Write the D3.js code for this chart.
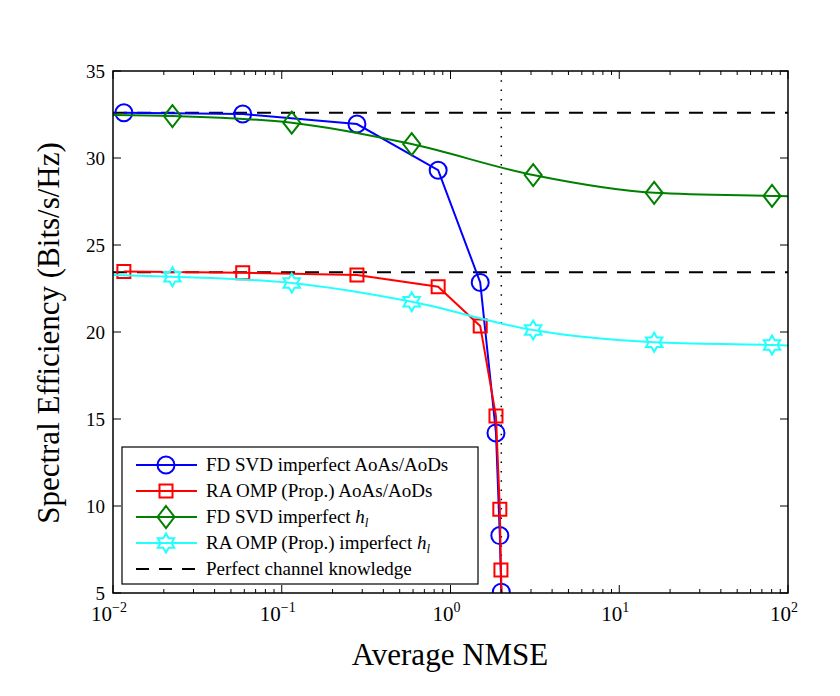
<!DOCTYPE html>
<head>
  <meta charset="utf-8">
  <script src="https://d3js.org/d3.v7.min.js"></script>
  <style>
    body { margin: 0; background: #fff; }
    svg { width: 840px; height: 696px; display: block; }
    text { font-family: "Liberation Serif", "DejaVu Serif", serif; fill: #000; }
  </style>
</head>
<body>
  <svg></svg>
  <script>
    // NMSE values (x) and spectral efficiency (y)
    var aoX = [0.0116, 0.0587, 0.279, 0.845, 1.50, 1.86, 1.96, 2.0];
    var fdSvdAoY = [32.6, 32.53, 31.95, 29.3, 22.85, 14.2, 8.3, 5.05];
    var raOmpAoX = [0.0116, 0.0587, 0.279, 0.845, 1.50, 1.86, 1.96, 1.99, 2.02];
    var raOmpAoY = [23.47, 23.41, 23.28, 22.6, 20.35, 15.17, 9.81, 6.32, 4.0];
    var hX = [0.01, 0.0225, 0.1146, 0.589, 3.09, 16.1, 80.4, 100];
    var fdSvdHY = [32.47, 32.41, 32.03, 30.8, 29.02, 28.0, 27.82, 27.8];
    var raOmpHY = [23.28, 23.18, 22.82, 21.74, 20.11, 19.41, 19.25, 19.22];
    var hMarked = [false, true, true, true, true, true, true, false];
    var perfectY = [32.6, 23.43];
    var thresholdX = 2;
    var yTicks = [5, 10, 15, 20, 25, 30, 35];
    var xTicks = [-2, -1, 0, 1, 2];
    var legendLabels = [
      ['FD SVD imperfect AoAs/AoDs'],
      ['RA OMP (Prop.) AoAs/AoDs'],
      ['FD SVD imperfect ', 'h'],
      ['RA OMP (Prop.) imperfect ', 'h'],
      ['Perfect channel knowledge']
    ];

    var pl = 113, pr = 788, pt = 71, pb = 593;
    var svg = d3.select('svg');
    var x = d3.scaleLog().domain([0.01, 100]).range([pl, pr]);
    var y = d3.scaleLinear().domain([5, 35]).range([pb, pt]);

    svg.append('defs').append('clipPath').attr('id', 'clip')
      .append('rect').attr('x', pl).attr('y', pt)
      .attr('width', pr - pl).attr('height', pb - pt);
    var plot = svg.append('g').attr('clip-path', 'url(#clip)');

    // marker shapes
    function hexagram(r) {
      var pts = [];
      for (var i = 0; i < 12; i++) {
        var a = Math.PI / 6 * i - Math.PI / 2;
        var rr = i % 2 ? r / Math.sqrt(3) : r;
        pts.push([rr * Math.cos(a), rr * Math.sin(a)]);
      }
      return 'M' + pts.join('L') + 'Z';
    }
    var shapes = {
      circle: 'M8.5,0A8.5,8.5 0 1,1 -8.5,0A8.5,8.5 0 1,1 8.5,0Z',
      square: 'M-6.5,-6.5H6.5V6.5H-6.5Z',
      diamond: 'M0,-11L8.5,0L0,11L-8.5,0Z',
      star: hexagram(9.5)
    };

    // reference lines
    plot.selectAll('line.perfect').data(perfectY).enter().append('line')
      .attr('x1', pl).attr('x2', pr)
      .attr('y1', function(d) { return y(d); }).attr('y2', function(d) { return y(d); })
      .attr('stroke', '#000').attr('stroke-width', 2)
      .attr('stroke-dasharray', '14,10');
    plot.append('line')
      .attr('x1', x(thresholdX)).attr('x2', x(thresholdX))
      .attr('y1', pt).attr('y2', pb)
      .attr('stroke', '#000').attr('stroke-width', 1.5)
      .attr('stroke-dasharray', '1.5,7.8');

    var series = [
      {xs: aoX, ys: fdSvdAoY, color: '#0000ff', shape: 'circle', curve: d3.curveLinear},
      {xs: raOmpAoX, ys: raOmpAoY, color: '#ff0000', shape: 'square', curve: d3.curveLinear},
      {xs: hX, ys: fdSvdHY, color: '#008000', shape: 'diamond', curve: d3.curveMonotoneX, marked: hMarked},
      {xs: hX, ys: raOmpHY, color: '#22ffff', shape: 'star', curve: d3.curveMonotoneX, marked: hMarked}
    ];

    series.forEach(function(s) {
      var pts = s.xs.map(function(v, i) { return [x(v), y(s.ys[i]), s.marked ? s.marked[i] : true]; });
      plot.append('path')
        .attr('d', d3.line().curve(s.curve)(pts))
        .attr('fill', 'none').attr('stroke', s.color).attr('stroke-width', 2);
      plot.selectAll(null).data(pts.filter(function(p) { return p[2]; })).enter().append('path')
        .attr('d', shapes[s.shape])
        .attr('transform', function(p) { return 'translate(' + p[0] + ',' + p[1] + ')'; })
        .attr('fill', 'none').attr('stroke', s.color).attr('stroke-width', 2);
    });

    // axes frame with inward ticks on all sides
    var axes = svg.append('g');
    var minor = [];
    for (var e = -2; e < 2; e++) for (var k = 2; k <= 9; k++) minor.push(k * Math.pow(10, e));
    [pb, pt].forEach(function(yy, j) {
      var dir = j === 0 ? -1 : 1;
      axes.selectAll(null).data(minor).enter().append('line')
        .attr('x1', function(d) { return x(d); }).attr('x2', function(d) { return x(d); })
        .attr('y1', yy).attr('y2', yy + dir * 4)
        .attr('stroke', '#000').attr('stroke-width', 1);
      axes.selectAll(null).data(xTicks).enter().append('line')
        .attr('x1', function(d) { return x(Math.pow(10, d)); }).attr('x2', function(d) { return x(Math.pow(10, d)); })
        .attr('y1', yy).attr('y2', yy + dir * 8)
        .attr('stroke', '#000').attr('stroke-width', 1);
    });
    [pl, pr].forEach(function(xx, j) {
      var dir = j === 0 ? 1 : -1;
      axes.selectAll(null).data(yTicks).enter().append('line')
        .attr('x1', xx).attr('x2', xx + dir * 8)
        .attr('y1', function(d) { return y(d); }).attr('y2', function(d) { return y(d); })
        .attr('stroke', '#000').attr('stroke-width', 1);
    });
    axes.append('rect').attr('x', pl).attr('y', pt)
      .attr('width', pr - pl).attr('height', pb - pt)
      .attr('fill', 'none').attr('stroke', '#000').attr('stroke-width', 1.5);

    axes.selectAll(null).data(yTicks).enter().append('text')
      .attr('x', pl - 8).attr('y', function(d) { return y(d); })
      .attr('dy', '0.35em').attr('text-anchor', 'end')
      .style('font-size', '19px').text(function(d) { return d; });

    var xl = axes.selectAll(null).data(xTicks).enter().append('text')
      .attr('x', function(d) { return x(Math.pow(10, d)) - 4; }).attr('y', 621)
      .attr('text-anchor', 'middle').style('font-size', '21px');
    xl.append('tspan').text('10');
    xl.append('tspan').attr('dy', -9).style('font-size', '14px')
      .text(function(d) { return d < 0 ? '\u2212' + (-d) : d; });

    svg.append('text').attr('x', 450).attr('y', 665).attr('text-anchor', 'middle')
      .style('font-size', '31px').text('Average NMSE');
    svg.append('text').attr('transform', 'translate(59,333)rotate(-90)')
      .attr('text-anchor', 'middle').style('font-size', '31px')
      .text('Spectral Efficiency (Bits/s/Hz)');

    // legend
    var lg = svg.append('g');
    lg.append('rect').attr('x', 122).attr('y', 447).attr('width', 356).attr('height', 137)
      .attr('fill', '#fff').attr('stroke', '#000').attr('stroke-width', 1.2);
    var legendSeries = series.concat([{color: '#000', dash: true}]);
    legendSeries.forEach(function(s, i) {
      var ly = 465 + i * 26;
      lg.append('line').attr('x1', 136).attr('x2', 197).attr('y1', ly).attr('y2', ly)
        .attr('stroke', s.color).attr('stroke-width', 2)
        .attr('stroke-dasharray', s.dash ? '13,10' : null);
      if (s.shape) {
        lg.append('path').attr('d', shapes[s.shape])
          .attr('transform', 'translate(166,' + ly + ')')
          .attr('fill', 'none').attr('stroke', s.color).attr('stroke-width', 2);
      }
      var t = lg.append('text').attr('x', 206).attr('y', ly + 6).style('font-size', '19px');
      t.append('tspan').text(legendLabels[i][0]);
      if (legendLabels[i][1]) {
        t.append('tspan').style('font-style', 'italic').text(legendLabels[i][1]);
        t.append('tspan').attr('dy', 4).style('font-style', 'italic').style('font-size', '13px').text('l');
      }
    });
  </script>
</body>
